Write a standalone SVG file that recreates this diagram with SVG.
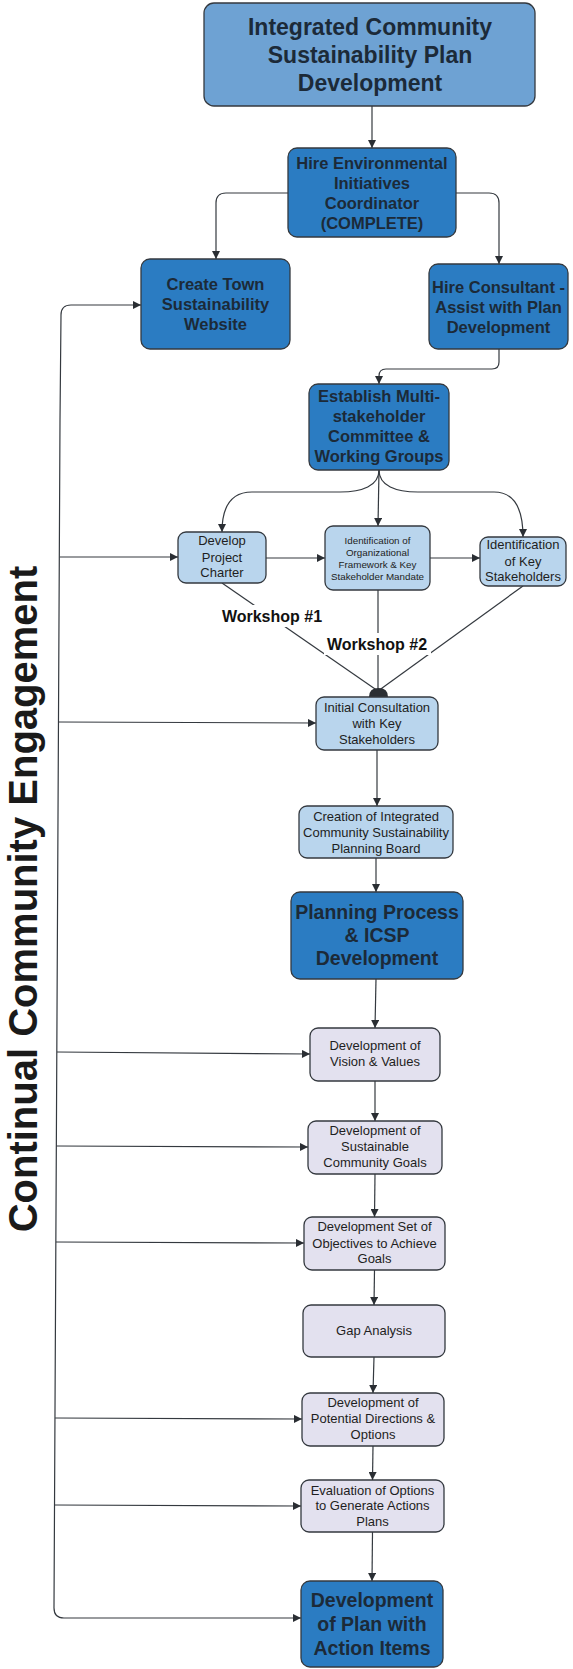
<svg xmlns="http://www.w3.org/2000/svg" width="573" height="1669" viewBox="0 0 573 1669">
<style>
.bg{fill:#ffffff}
.nd{stroke:#34393f;stroke-width:1.3}
.top{fill:#6ea2d3}
.dk{fill:#2b7cc2}
.lt{fill:#b9d5ed}
.lv{fill:#e3e1ef}
.tb{font-family:"Liberation Sans",Arial,sans-serif;font-weight:bold;fill:#1c2a38;text-anchor:middle}
.tn{font-family:"Liberation Sans",Arial,sans-serif;fill:#1e1e22;text-anchor:middle;font-size:13px}
.ts{font-family:"Liberation Sans",Arial,sans-serif;fill:#1e1e22;text-anchor:middle;font-size:9.8px}
.e{fill:none;stroke:#34393f;stroke-width:1.2}
.lab{font-family:"Liberation Sans",Arial,sans-serif;font-weight:bold;fill:#111;font-size:16px;text-anchor:middle}
</style>
<defs>
<marker id="ah" viewBox="0 0 10 10" refX="10" refY="5" markerWidth="9" markerHeight="8" markerUnits="userSpaceOnUse" orient="auto">
<path d="M0,0 L10,5 L0,10 z" fill="#2a2e33"/>
</marker>
</defs>
<rect class="bg" x="0" y="0" width="573" height="1669"/>

<text x="37" y="899" transform="rotate(-90 37 899)" font-family="Liberation Sans, Arial, sans-serif" font-weight="bold" font-size="40" fill="#1a1a1a" text-anchor="middle">Continual Community Engagement</text>

<g id="connectors">
<path class="e" marker-end="url(#ah)" d="M372,106 L372,148"/>
<path class="e" marker-end="url(#ah)" d="M288,193 L226,193 Q216,193 216,203 L216,259"/>
<path class="e" marker-end="url(#ah)" d="M456,193 L489,193 Q499,193 499,203 L499,264"/>
<path class="e" marker-end="url(#ah)" d="M499,349 L499,362 Q499,369 492,369 L386,369 Q379,369 379,376 L379,384"/>
<path class="e" marker-end="url(#ah)" d="M379,470 C379,486 362,492 340,492 L252,492 C232,492 222,505 222,532"/>
<path class="e" marker-end="url(#ah)" d="M379,470 L378,526"/>
<path class="e" marker-end="url(#ah)" d="M379,470 C379,486 396,492 418,492 L494,492 C514,492 523,508 523,537"/>
<path class="e" marker-end="url(#ah)" d="M266,558 L325,558"/>
<path class="e" marker-end="url(#ah)" d="M430,558 L480,558"/>
<path class="e" d="M222,583 L378,691"/>
<path class="e" d="M378,590 L378,691"/>
<path class="e" d="M523,586 L378,691"/>
<path d="M369,697 Q369,688 378.5,688 Q388,688 388,697 Z" fill="#2a2e33"/>
<path class="e" marker-end="url(#ah)" d="M377,750 L377,806"/>
<path class="e" marker-end="url(#ah)" d="M376,858 L376,892"/>
<path class="e" marker-end="url(#ah)" d="M376,979 L375,1028"/>
<path class="e" marker-end="url(#ah)" d="M375,1081 L375,1121"/>
<path class="e" marker-end="url(#ah)" d="M375,1174 L374.5,1217"/>
<path class="e" marker-end="url(#ah)" d="M374.5,1270 L374,1305"/>
<path class="e" marker-end="url(#ah)" d="M374,1357 L373,1393"/>
<path class="e" marker-end="url(#ah)" d="M373,1446 L372.5,1480"/>
<path class="e" marker-end="url(#ah)" d="M372.5,1532 L372,1581"/>
<path class="e" marker-end="url(#ah)" d="M60,420 L61,315 Q61,305 71,305 L141,305"/>
<path class="e" marker-end="url(#ah)" d="M60,420 L54,1608 Q54,1618 64,1618 L301,1618"/>
<path class="e" marker-end="url(#ah)" d="M59.7,557 L178,557"/>
<path class="e" marker-end="url(#ah)" d="M58.8,722 L316,723"/>
<path class="e" marker-end="url(#ah)" d="M57,1052 L310,1054"/>
<path class="e" marker-end="url(#ah)" d="M56.5,1146 L308,1147"/>
<path class="e" marker-end="url(#ah)" d="M56,1242 L304,1243"/>
<path class="e" marker-end="url(#ah)" d="M55.1,1418 L302,1419"/>
<path class="e" marker-end="url(#ah)" d="M54.6,1505 L301,1506"/>
<rect x="219" y="605" width="106" height="22" fill="#ffffff"/>
<text class="lab" x="272" y="622">Workshop #1</text>
<rect x="324" y="633" width="107" height="22" fill="#ffffff"/>
<text class="lab" x="377" y="650">Workshop #2</text>
</g>

<g id="n-top">
<rect class="nd top" x="204" y="3" width="331" height="103" rx="10"/>
<text class="tb" font-size="23" x="370" y="35">Integrated Community</text>
<text class="tb" font-size="23" x="370" y="63">Sustainability Plan</text>
<text class="tb" font-size="23" x="370" y="91">Development</text>
</g>
<g id="n-hire-env">
<rect class="nd dk" x="288" y="148" width="168" height="89" rx="9"/>
<text class="tb" font-size="16.5" x="372" y="169">Hire Environmental</text>
<text class="tb" font-size="16.5" x="372" y="189">Initiatives</text>
<text class="tb" font-size="16.5" x="372" y="209">Coordinator</text>
<text class="tb" font-size="16.5" x="372" y="229">(COMPLETE)</text>
</g>
<g id="n-create-town">
<rect class="nd dk" x="141" y="259" width="149" height="90" rx="9"/>
<text class="tb" font-size="16.5" x="215.5" y="290">Create Town</text>
<text class="tb" font-size="16.5" x="215.5" y="310">Sustainability</text>
<text class="tb" font-size="16.5" x="215.5" y="330">Website</text>
</g>
<g id="n-hire-consultant">
<rect class="nd dk" x="429" y="264" width="139" height="85" rx="9"/>
<text class="tb" font-size="16.5" x="498.5" y="293">Hire Consultant -</text>
<text class="tb" font-size="16.5" x="498.5" y="313">Assist with Plan</text>
<text class="tb" font-size="16.5" x="498.5" y="333">Development</text>
</g>
<g id="n-establish">
<rect class="nd dk" x="309" y="384" width="140" height="86" rx="9"/>
<text class="tb" font-size="16.5" x="379" y="402">Establish Multi-</text>
<text class="tb" font-size="16.5" x="379" y="422">stakeholder</text>
<text class="tb" font-size="16.5" x="379" y="442">Committee &amp;</text>
<text class="tb" font-size="16.5" x="379" y="462">Working Groups</text>
</g>
<g id="n-charter">
<rect class="nd lt" x="178" y="532" width="88" height="51" rx="8"/>
<text class="tn" x="222" y="545">Develop</text>
<text class="tn" x="222" y="561.5">Project</text>
<text class="tn" x="222" y="577">Charter</text>
</g>
<g id="n-ident-org">
<rect class="nd lt" x="325" y="526" width="105" height="64" rx="8"/>
<text class="ts" x="377.5" y="544">Identification of</text>
<text class="ts" x="377.5" y="556">Organizational</text>
<text class="ts" x="377.5" y="568">Framework &amp; Key</text>
<text class="ts" x="377.5" y="580">Stakeholder Mandate</text>
</g>
<g id="n-key-stake">
<rect class="nd lt" x="480" y="537" width="86" height="49" rx="8"/>
<text class="tn" x="523" y="549">Identification</text>
<text class="tn" x="523" y="565.5">of Key</text>
<text class="tn" x="523" y="581">Stakeholders</text>
</g>
<g id="n-initial">
<rect class="nd lt" x="316" y="697" width="122" height="53" rx="8"/>
<text class="tn" x="377" y="711.5">Initial Consultation</text>
<text class="tn" x="377" y="727.5">with Key</text>
<text class="tn" x="377" y="743.5">Stakeholders</text>
</g>
<g id="n-creation">
<rect class="nd lt" x="299" y="806" width="154" height="52" rx="8"/>
<text class="tn" x="376" y="820.5">Creation of Integrated</text>
<text class="tn" x="376" y="836.5">Community Sustainability</text>
<text class="tn" x="376" y="852.5">Planning Board</text>
</g>
<g id="n-planning">
<rect class="nd dk" x="291" y="892" width="172" height="87" rx="9"/>
<text class="tb" font-size="19.5" x="377" y="919">Planning Process</text>
<text class="tb" font-size="19.5" x="377" y="942">&amp; ICSP</text>
<text class="tb" font-size="19.5" x="377" y="965">Development</text>
</g>
<g id="n-vision">
<rect class="nd lv" x="310" y="1028" width="130" height="53" rx="8"/>
<text class="tn" x="375" y="1050">Development of</text>
<text class="tn" x="375" y="1066">Vision &amp; Values</text>
</g>
<g id="n-goals">
<rect class="nd lv" x="308" y="1121" width="134" height="53" rx="8"/>
<text class="tn" x="375" y="1134.5">Development of</text>
<text class="tn" x="375" y="1151">Sustainable</text>
<text class="tn" x="375" y="1167">Community Goals</text>
</g>
<g id="n-objectives">
<rect class="nd lv" x="304" y="1217" width="141" height="53" rx="8"/>
<text class="tn" x="374.5" y="1231">Development Set of</text>
<text class="tn" x="374.5" y="1247.5">Objectives to Achieve</text>
<text class="tn" x="374.5" y="1263">Goals</text>
</g>
<g id="n-gap">
<rect class="nd lv" x="303" y="1305" width="142" height="52" rx="8"/>
<text class="tn" x="374" y="1335">Gap Analysis</text>
</g>
<g id="n-potential">
<rect class="nd lv" x="302" y="1393" width="142" height="53" rx="8"/>
<text class="tn" x="373" y="1406.5">Development of</text>
<text class="tn" x="373" y="1423">Potential Directions &amp;</text>
<text class="tn" x="373" y="1439">Options</text>
</g>
<g id="n-evaluation">
<rect class="nd lv" x="301" y="1480" width="143" height="52" rx="8"/>
<text class="tn" x="372.5" y="1494.5">Evaluation of Options</text>
<text class="tn" x="372.5" y="1510">to Generate Actions</text>
<text class="tn" x="372.5" y="1526">Plans</text>
</g>
<g id="n-devplan">
<rect class="nd dk" x="301" y="1581" width="142" height="86" rx="9"/>
<text class="tb" font-size="19.5" x="372" y="1607">Development</text>
<text class="tb" font-size="19.5" x="372" y="1631">of Plan with</text>
<text class="tb" font-size="19.5" x="372" y="1655">Action Items</text>
</g>
</svg>
